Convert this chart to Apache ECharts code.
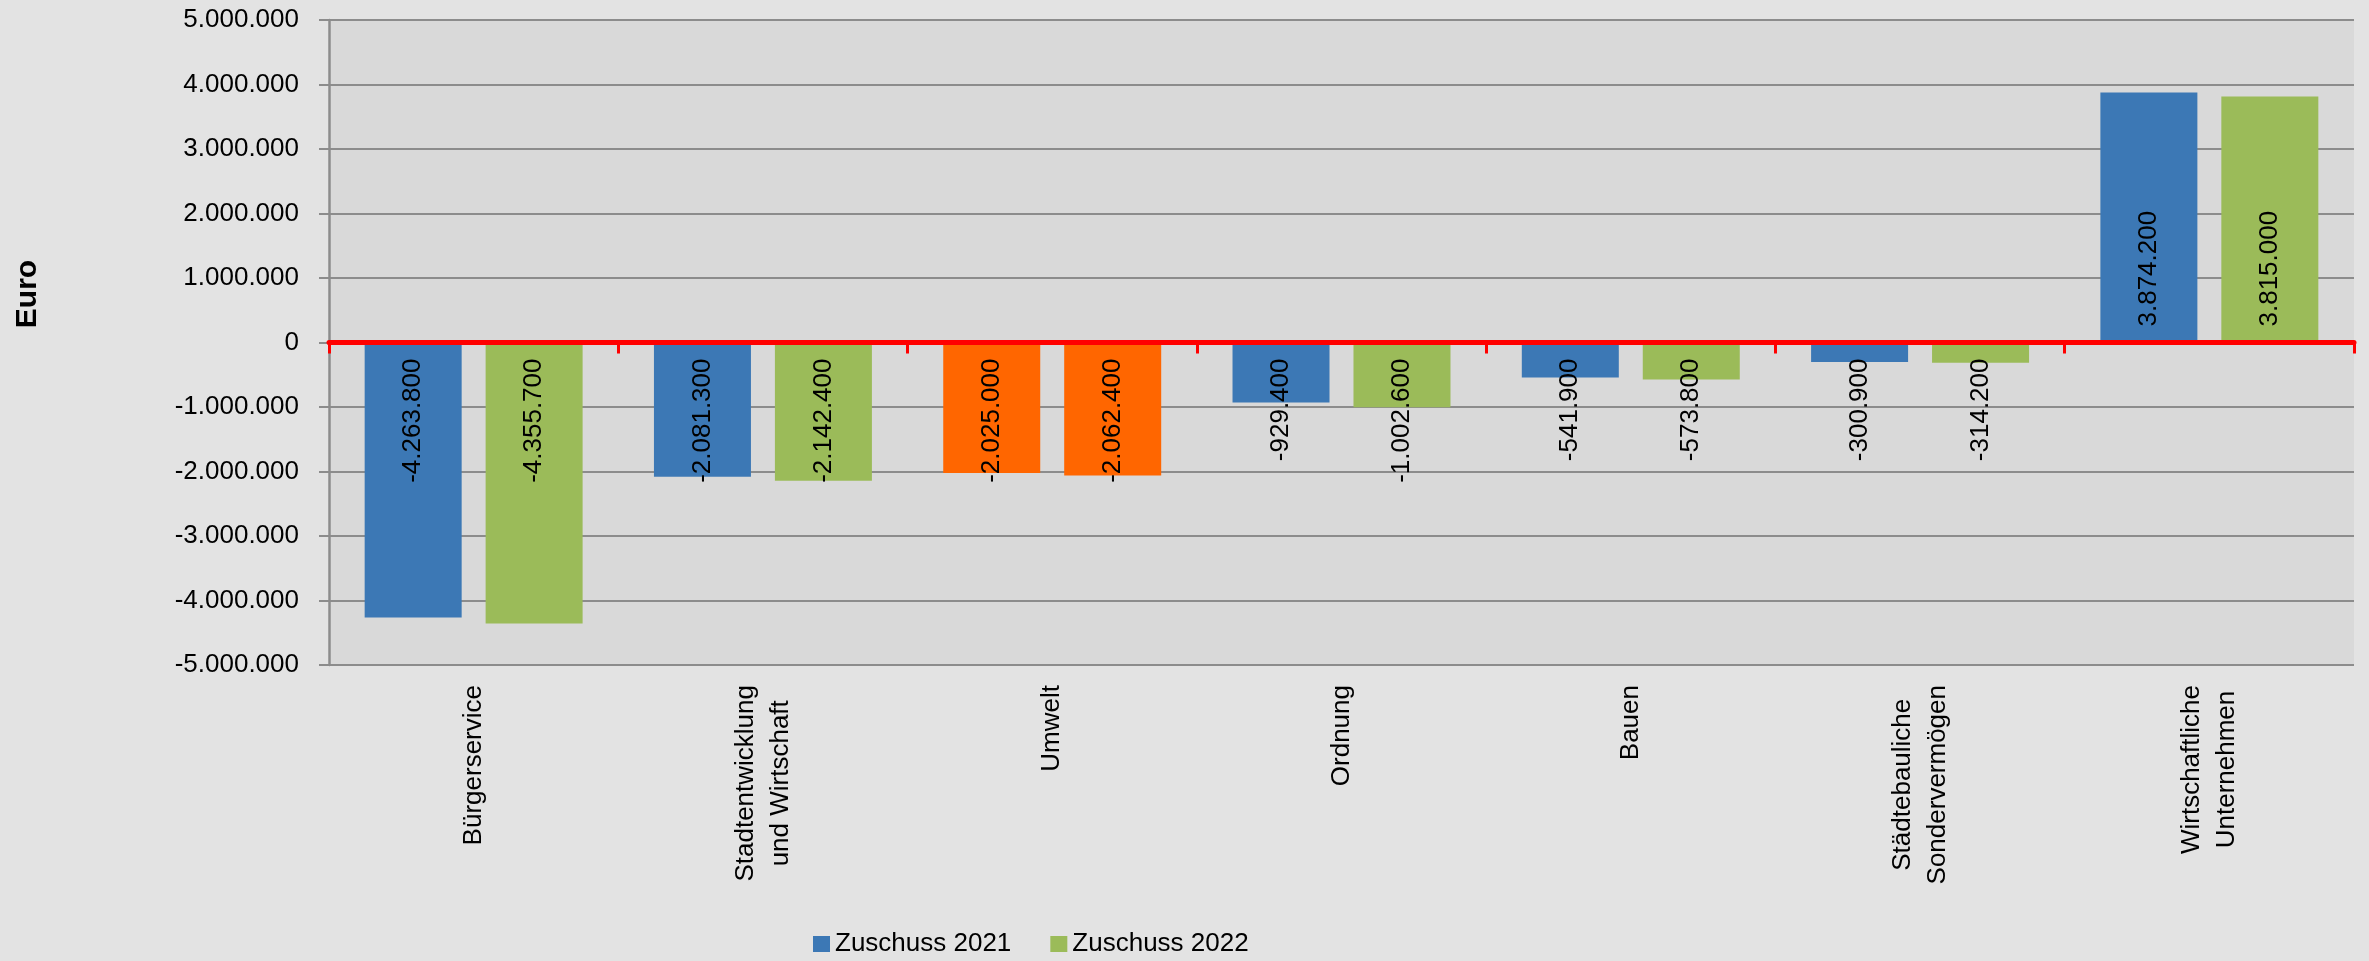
<!DOCTYPE html>
<html>
<head>
<meta charset="utf-8">
<script src="https://cdn.jsdelivr.net/npm/echarts@6/dist/echarts.min.js"></script>
<style>
html,body{margin:0;padding:0;background:#e3e3e3;}
#chart{width:2369px;height:961px;}
</style>
</head>
<body>
<div id="chart"></div>
<script>
const categories = ['Bürgerservice', 'Stadtentwicklung\nund Wirtschaft', 'Umwelt', 'Ordnung', 'Bauen', 'Städtebauliche\nSondervermögen', 'Wirtschaftliche\nUnternehmen'];
const seriesNames = ['Zuschuss 2021', 'Zuschuss 2022'];
const zuschuss2021 = [-4263800, -2081300, -2025000, -929400, -541900, -300900, 3874200];
const zuschuss2022 = [-4355700, -2142400, -2062400, -1002600, -573800, -314200, 3815000];
const highlightCategory = 'Umwelt';
const yMin = -5000000, yMax = 5000000, yStep = 1000000;
const axisTitle = 'Euro';

const FONT = '"Liberation Sans Narrow", "Arial Narrow", "Liberation Sans", Arial, sans-serif';
const FS = 26;
const BLUE = '#3c78b5', GREEN = '#9bbb59', ORANGE = '#ff6600';

function fmt(v) {
  const neg = v < 0;
  const s = Math.abs(Math.round(v)).toString().replace(/\B(?=(\d{3})+(?!\d))/g, '.');
  return (neg ? '-' : '') + s;
}

const negLabel = {position: 'insideTop', distance: 16, align: 'right', verticalAlign: 'middle'};
const posLabel = {position: 'insideBottom', distance: 16, align: 'left', verticalAlign: 'middle'};

function buildData(arr) {
  return arr.map((v, i) => {
    const d = {value: v, label: v < 0 ? negLabel : posLabel};
    if (categories[i] === highlightCategory) d.itemStyle = {color: ORANGE};
    return d;
  });
}

const chart = echarts.init(document.getElementById('chart'), null, {renderer: 'canvas'});
const labelCommon = {
  show: true, rotate: 90, fontSize: FS, fontFamily: FONT, color: '#000',
  formatter: p => fmt(p.value)
};

chart.setOption({
  backgroundColor: '#e3e3e3',
  animation: false,
  textStyle: {fontFamily: FONT},
  grid: {left: 329, right: 15, top: 20, bottom: 296, show: true, backgroundColor: '#d9d9d9', borderWidth: 0, containLabel: false},
  legend: {
    data: seriesNames, left: 813, top: 930, icon: 'rect', itemWidth: 17, itemHeight: 16, itemGap: 39, padding: 0,
    textStyle: {fontSize: FS, fontFamily: FONT, color: '#000', lineHeight: 28}
  },
  graphic: [{
    type: 'text', x: 28, y: 294, rotation: Math.PI / 2,
    style: {text: axisTitle, font: 'bold 30px ' + FONT, fill: '#000', textAlign: 'center', textVerticalAlign: 'middle'}
  }],
  xAxis: [
    {
      type: 'category', data: categories, position: 'bottom',
      axisLine: {show: false, onZero: false}, axisTick: {show: false}, splitLine: {show: false},
      axisLabel: {
        interval: 0, rotate: 90, margin: 20, fontSize: FS, fontFamily: FONT, color: '#000', lineHeight: 35,
        formatter: v => v.split('\n').map(s => '{c|' + s + '}').join('\n'),
        rich: {c: {align: 'center', fontSize: FS, fontFamily: FONT, color: '#000', lineHeight: 35}}
      }
    },
    {
      type: 'category', data: categories, position: 'bottom', z: 5,
      axisLine: {show: true, onZero: true, lineStyle: {color: '#ff0000', width: 5}},
      axisTick: {show: true, length: 11, lineStyle: {color: '#ff0000', width: 3}},
      axisLabel: {show: false}, splitLine: {show: false}
    }
  ],
  yAxis: {
    type: 'value', min: yMin, max: yMax, interval: yStep,
    axisLine: {show: true, onZero: false, lineStyle: {color: '#8c8c8c', width: 2.5}},
    axisTick: {show: true, length: 10, lineStyle: {color: '#8c8c8c', width: 2}},
    splitLine: {show: true, lineStyle: {color: '#8c8c8c', width: 2}},
    axisLabel: {margin: 30, fontSize: FS, fontFamily: FONT, color: '#000', formatter: v => fmt(v)}
  },
  series: [
    {name: seriesNames[0], type: 'bar', xAxisIndex: 0, barWidth: 97, barGap: '24.7%', itemStyle: {color: BLUE}, label: labelCommon, data: buildData(zuschuss2021)},
    {name: seriesNames[1], type: 'bar', xAxisIndex: 0, barWidth: 97, barGap: '24.7%', itemStyle: {color: GREEN}, label: labelCommon, data: buildData(zuschuss2022)}
  ]
});
</script>
</body>
</html>
